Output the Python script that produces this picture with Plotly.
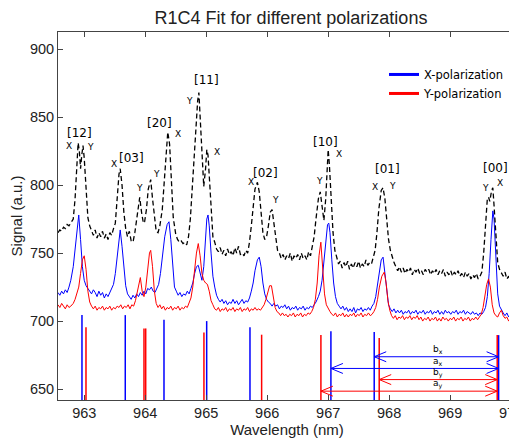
import plotly.graph_objects as go

# ---------------- data ----------------
black_pts = [
    (962.57,765),(962.60,767),(962.63,766),(962.66,769),(962.69,768),(962.72,771),(962.75,770),(962.78,772),
    (962.82,775),(962.85,790),(962.88,818),(962.90,831),(962.92,825),(962.94,812),(962.96,822),(962.98,829),
    (963.00,820),(963.03,795),(963.06,776),(963.09,770),(963.12,766),(963.15,763),(963.18,767),(963.21,761),
    (963.24,765),(963.27,762),(963.30,766),(963.33,761),(963.36,764),(963.39,760),(963.42,765),(963.45,763),
    (963.48,768),(963.51,772),(963.54,790),(963.57,808),(963.59,812),(963.62,800),(963.65,780),(963.68,768),
    (963.71,762),(963.74,766),(963.77,759),(963.80,758),(963.83,765),(963.86,775),(963.89,788),(963.91,791),
    (963.94,780),(963.97,772),(963.99,773),(964.02,782),(964.05,797),(964.09,804),(964.12,790),(964.15,776),
    (964.18,766),(964.21,765),(964.24,770),(964.28,782),(964.31,800),(964.34,825),(964.37,839),(964.40,830),
    (964.43,800),(964.46,776),(964.50,764),(964.53,760),(964.56,758),(964.59,759),(964.62,757),(964.65,758),
    (964.68,756),(964.71,762),(964.74,775),(964.77,798),(964.80,822),(964.83,845),(964.86,862),(964.88,868),
    (964.90,850),(964.93,815),(964.96,799),(964.99,812),(965.01,826),(965.03,822),(965.05,805),(965.08,778),
    (965.11,762),(965.14,758),(965.17,753),(965.20,751),(965.23,754),(965.26,749),(965.29,752),(965.32,748),
    (965.35,753),(965.38,749),(965.41,751),(965.44,748),(965.47,754),(965.50,750),(965.53,755),(965.56,749),
    (965.59,750),(965.62,748),(965.65,752),(965.68,750),(965.71,758),(965.74,770),(965.77,785),(965.80,797),
    (965.84,802),(965.87,795),(965.90,780),(965.93,765),(965.96,760),(965.99,762),(966.02,770),(966.05,780),
    (966.08,782),(966.11,772),(966.14,760),(966.17,752),(966.20,750),(966.23,746),(966.26,749),(966.29,745),
    (966.32,748),(966.35,746),(966.38,750),(966.41,744),(966.44,748),(966.47,746),(966.50,749),(966.53,745),
    (966.56,750),(966.59,746),(966.62,748),(966.65,745),(966.68,751),(966.71,748),(966.74,755),(966.77,762),
    (966.80,775),(966.84,790),(966.87,795),(966.90,785),(966.93,774),(966.96,790),(966.98,815),(967.00,826),
    (967.02,815),(967.05,790),(967.08,765),(967.11,752),(967.14,746),(967.17,742),(967.20,744),(967.23,739),
    (967.26,743),(967.29,740),(967.32,744),(967.35,738),(967.38,742),(967.41,739),(967.44,743),(967.47,740),
    (967.50,744),(967.53,739),(967.56,742),(967.59,740),(967.62,745),(967.65,741),(967.68,743),(967.71,742),
    (967.74,747),(967.77,752),(967.80,765),(967.83,782),(967.87,796),(967.90,798),(967.93,790),(967.96,775),
    (967.99,760),(968.02,752),(968.05,747),(968.08,743),(968.11,740),(968.14,737),(968.17,740),(968.20,736),
    (968.23,739),(968.26,735),(968.29,738),(968.32,736),(968.35,739),(968.38,734),(968.41,738),(968.44,736),
    (968.47,739),(968.50,735),(968.53,737),(968.56,734),(968.59,738),(968.62,736),(968.65,738),(968.68,734),
    (968.71,737),(968.74,735),(968.77,738),(968.80,734),(968.83,737),(968.86,735),(968.89,738),(968.92,733),
    (968.95,736),(968.98,734),(969.01,737),(969.04,733),(969.07,736),(969.10,734),(969.13,737),(969.16,733),
    (969.19,735),(969.22,732),(969.25,736),(969.28,733),(969.31,735),(969.34,731),(969.37,734),(969.40,732),
    (969.43,735),(969.46,731),(969.49,733),(969.52,736),(969.55,750),(969.58,775),(969.61,790),(969.63,791),
    (969.65,788),(969.68,796),(969.70,798),(969.72,785),(969.75,760),(969.78,743),(969.81,738),(969.84,735),
    (969.87,733),(969.90,736),(969.93,731),(969.96,733),(969.99,730),(970.02,732),(970.05,730),(970.08,731),
]

blue_pts = [
    (962.57,721),(962.60,719),(962.63,722),(962.66,720),(962.69,723),(962.72,721),(962.75,725),(962.78,730),
    (962.82,740),(962.85,752),(962.88,768),(962.91,778),(962.94,760),(962.97,740),(963.00,730),(963.03,726),
    (963.06,724),(963.09,722),(963.12,720),(963.15,723),(963.18,721),(963.21,718),(963.24,722),(963.27,719),
    (963.30,721),(963.33,717),(963.36,720),(963.39,718),(963.42,721),(963.45,723),(963.48,727),(963.51,735),
    (963.54,748),(963.57,762),(963.59,767),(963.62,755),(963.65,738),(963.68,726),(963.71,720),(963.74,718),
    (963.77,716),(963.80,719),(963.83,717),(963.86,720),(963.89,718),(963.92,721),(963.95,719),(963.98,722),
    (964.01,720),(964.04,724),(964.07,723),(964.10,725),(964.13,722),(964.16,721),(964.19,724),(964.22,727),
    (964.25,735),(964.28,748),(964.32,762),(964.36,771),(964.39,773),(964.42,760),(964.45,740),(964.48,725),
    (964.51,722),(964.54,719),(964.57,721),(964.60,718),(964.63,720),(964.66,719),(964.69,722),(964.72,720),
    (964.75,724),(964.78,728),(964.81,735),(964.84,740),(964.87,741),(964.90,735),(964.93,730),(964.96,740),
    (964.99,765),(965.01,775),(965.03,778),(965.05,770),(965.08,750),(965.11,733),(965.14,725),(965.17,719),
    (965.20,716),(965.23,714),(965.26,716),(965.29,713),(965.32,715),(965.35,712),(965.38,714),(965.41,713),
    (965.44,716),(965.47,713),(965.50,715),(965.53,712),(965.56,714),(965.59,716),(965.62,713),(965.65,715),
    (965.68,714),(965.71,717),(965.74,722),(965.77,728),(965.80,737),(965.84,745),(965.87,747),(965.90,740),
    (965.93,728),(965.96,720),(965.99,716),(966.02,714),(966.05,713),(966.08,711),(966.11,713),(966.14,711),
    (966.17,712),(966.20,709),(966.23,711),(966.26,710),(966.29,712),(966.32,709),(966.35,711),(966.38,708),
    (966.41,710),(966.44,709),(966.47,711),(966.50,708),(966.53,710),(966.56,709),(966.59,711),(966.62,708),
    (966.65,710),(966.68,709),(966.71,711),(966.74,710),(966.77,712),(966.80,714),(966.84,718),(966.87,722),
    (966.90,730),(966.93,745),(966.96,762),(966.99,771),(967.01,772),(967.03,765),(967.06,745),(967.09,728),
    (967.12,718),(967.15,713),(967.18,711),(967.21,709),(967.24,711),(967.27,708),(967.30,710),(967.33,707),
    (967.36,709),(967.39,707),(967.42,710),(967.45,706),(967.48,709),(967.51,708),(967.54,710),(967.57,707),
    (967.60,709),(967.63,708),(967.66,710),(967.69,708),(967.72,711),(967.75,713),(967.78,718),(967.81,726),
    (967.84,737),(967.87,745),(967.90,747),(967.93,735),(967.96,720),(967.99,712),(968.02,709),(968.05,707),
    (968.08,709),(968.11,706),(968.14,708),(968.17,706),(968.20,708),(968.23,705),(968.26,707),(968.29,706),
    (968.32,708),(968.35,705),(968.38,707),(968.41,706),(968.44,708),(968.47,705),(968.50,707),(968.53,706),
    (968.56,708),(968.59,705),(968.62,707),(968.65,706),(968.68,708),(968.71,705),(968.74,707),(968.77,706),
    (968.80,708),(968.83,705),(968.86,707),(968.89,705),(968.92,708),(968.95,706),(968.98,707),(969.01,705),
    (969.04,707),(969.07,706),(969.10,708),(969.13,705),(969.16,707),(969.19,706),(969.22,708),(969.25,705),
    (969.28,707),(969.31,706),(969.34,705),(969.37,707),(969.40,705),(969.43,706),(969.46,704),(969.49,706),
    (969.52,705),(969.55,707),(969.58,710),(969.61,718),(969.64,735),(969.67,760),(969.70,781),(969.72,775),
    (969.75,745),(969.78,720),(969.81,711),(969.84,708),(969.87,706),(969.90,704),(969.93,706),(969.96,703),
    (969.99,705),(970.02,703),(970.05,704),(970.08,703),
]

red_pts = [
    (962.57,712),(962.60,710),(962.63,713),(962.66,711),(962.69,709),(962.72,712),(962.75,710),(962.78,711),
    (962.82,713),(962.85,716),(962.88,720),(962.91,725),(962.94,735),(962.97,745),(963.00,748),(963.03,738),
    (963.06,722),(963.09,714),(963.12,711),(963.15,709),(963.18,711),(963.21,708),(963.24,710),(963.27,709),
    (963.30,711),(963.33,708),(963.36,710),(963.39,709),(963.42,711),(963.45,708),(963.48,710),(963.51,709),
    (963.54,711),(963.57,710),(963.60,712),(963.63,709),(963.66,711),(963.69,710),(963.72,712),(963.75,709),
    (963.78,712),(963.81,711),(963.84,715),(963.87,722),(963.90,730),(963.92,732),(963.95,722),(963.98,718),
    (964.01,725),(964.04,738),(964.07,750),(964.09,752),(964.12,740),(964.15,722),(964.18,713),(964.21,710),
    (964.24,712),(964.27,709),(964.30,711),(964.33,708),(964.36,710),(964.39,709),(964.42,711),(964.45,708),
    (964.48,710),(964.51,709),(964.54,711),(964.57,708),(964.60,710),(964.63,709),(964.66,711),(964.69,710),
    (964.72,713),(964.75,717),(964.78,725),(964.81,738),(964.84,750),(964.87,757),(964.90,748),(964.93,735),
    (964.96,730),(964.99,728),(965.02,727),(965.05,722),(965.08,715),(965.11,712),(965.14,709),(965.17,708),
    (965.20,710),(965.23,707),(965.26,709),(965.29,708),(965.32,710),(965.35,707),(965.38,709),(965.41,708),
    (965.44,710),(965.47,707),(965.50,709),(965.53,708),(965.56,710),(965.59,707),(965.62,709),(965.65,708),
    (965.68,710),(965.71,707),(965.74,709),(965.77,708),(965.80,710),(965.83,708),(965.86,709),(965.89,708),
    (965.92,710),(965.95,712),(965.98,716),(966.01,722),(966.04,726),(966.07,726),(966.10,718),(966.13,710),
    (966.16,707),(966.19,706),(966.22,704),(966.25,706),(966.28,704),(966.31,705),(966.34,703),(966.37,705),
    (966.40,704),(966.43,706),(966.46,703),(966.49,705),(966.52,704),(966.55,706),(966.58,703),(966.61,705),
    (966.64,704),(966.67,706),(966.70,705),(966.73,707),(966.76,710),(966.79,716),(966.82,728),(966.85,748),
    (966.88,758),(966.91,740),(966.94,720),(966.97,712),(967.00,709),(967.03,707),(967.06,705),(967.09,704),
    (967.12,706),(967.15,703),(967.18,705),(967.21,704),(967.24,706),(967.27,703),(967.30,705),(967.33,703),
    (967.36,705),(967.39,704),(967.42,706),(967.45,703),(967.48,705),(967.51,704),(967.54,706),(967.57,703),
    (967.60,705),(967.63,704),(967.66,706),(967.69,704),(967.72,705),(967.75,707),(967.78,710),(967.81,716),
    (967.84,725),(967.88,733),(967.92,736),(967.95,728),(967.98,715),(968.01,708),(968.04,704),(968.07,702),
    (968.10,704),(968.13,701),(968.16,703),(968.19,702),(968.22,704),(968.25,701),(968.28,703),(968.31,702),
    (968.34,704),(968.37,701),(968.40,703),(968.43,702),(968.46,704),(968.49,701),(968.52,703),(968.55,700),
    (968.58,702),(968.61,701),(968.64,703),(968.67,700),(968.70,702),(968.73,701),(968.76,703),(968.79,700),
    (968.82,702),(968.85,700),(968.88,703),(968.91,701),(968.94,702),(968.97,700),(969.00,702),(969.03,701),
    (969.06,703),(969.09,700),(969.12,702),(969.15,701),(969.18,703),(969.21,700),(969.24,702),(969.27,701),
    (969.30,703),(969.33,700),(969.36,702),(969.39,701),(969.42,703),(969.45,701),(969.48,703),(969.51,705),
    (969.54,710),(969.57,718),(969.60,727),(969.63,731),(969.66,725),(969.69,712),(969.72,706),(969.75,704),
    (969.78,703),(969.81,706),(969.84,708),(969.87,704),(969.90,702),(969.93,703),(969.96,700),(969.99,702),
    (970.02,700),(970.05,701),(970.08,700),
]

# fitted line positions (nm) and their heights (a.u.)
blue_fit_nm = [962.963, 963.673, 964.308, 965.008, 965.718, 967.045, 967.755, 969.795]
blue_fit_top = [704.4, 704.4, 701.0, 700.0, 695.4, 692.6, 692.0, 689.7]
red_fit_nm = [963.029, 963.980, 964.008, 964.963, 965.909, 966.881, 967.837, 969.772]
red_fit_top = [695.4, 694.6, 694.6, 691.7, 690.0, 689.7, 687.5, 689.7]

# peak labels
mode_labels = ["[12]", "[00]", "[03]", "[20]", "[11]", "[02]", "[10]", "[01]", "[00]"]
mode_nm = [962.93, 962.26, 963.77, 964.23, 965.00, 965.97, 966.95, 967.97, 969.75]
mode_signal = [838.0, 819.6, 819.6, 845.4, 877.0, 809.0, 832.0, 811.5, 812.3]

pol_labels = ["X", "Y", "X", "Y", "Y", "X", "Y", "X", "X", "Y", "Y", "X", "X", "Y", "Y", "X"]
pol_nm = [962.75, 963.11, 963.49, 963.90, 964.19, 964.54, 964.73, 965.18, 965.73, 966.13,
          966.85, 967.17, 967.76, 968.05, 969.58, 969.82]
pol_signal = [829.0, 828.0, 815.4, 797.6, 808.0, 837.5, 861.8, 824.5, 802.4, 789.0,
              803.0, 822.8, 798.8, 799.5, 798.0, 801.2]

# spacing arrows
arrow_labels = ["b<sub>x</sub>", "a<sub>x</sub>", "b<sub>y</sub>", "a<sub>y</sub>"]
arrow_start = [967.755, 967.045, 967.837, 966.881]
arrow_end = [969.795, 969.795, 969.772, 969.772]
arrow_level = [673.8, 665.2, 657.0, 648.5]
arrow_label_nm = [968.80, 968.80, 968.80, 968.80]
arrow_colors = ["#0000ff", "#0000ff", "#ff0000", "#ff0000"]

x_ticks = [963, 964, 965, 966, 967, 968, 969, 970]
y_ticks = [650, 700, 750, 800, 850, 900]
x_range = [962.57, 970.08]
y_range = [642.0, 912.5]

BLUE = "#0000ff"
RED = "#ff0000"

# ---------------- layout geometry ----------------
# the page body adds an 8px offset, so the figure is 8px smaller and margins are shifted
FIG_W, FIG_H = 509, 430
M_L, M_R, M_T, M_B = 50, 1, 24, 38
PLOT_W = FIG_W - M_L - M_R
PLOT_H = FIG_H - M_T - M_B
px_per_nm = PLOT_W / (x_range[1] - x_range[0])
px_per_unit = PLOT_H / (y_range[1] - y_range[0])
HEAD_LEN_PX, HEAD_HALF_PX = 12, 5
hx = HEAD_LEN_PX / px_per_nm
hy = HEAD_HALF_PX / px_per_unit

# ---------------- figure ----------------
fig = go.Figure()

bx, by = zip(*blue_pts)
rx, ry = zip(*red_pts)
kx, ky = zip(*black_pts)

fig.add_trace(go.Scatter(x=bx, y=by, mode="lines", line=dict(color=BLUE, width=1), showlegend=False))
fig.add_trace(go.Scatter(x=rx, y=ry, mode="lines", line=dict(color=RED, width=1), showlegend=False))
fig.add_trace(go.Scatter(x=kx, y=ky, mode="lines", line=dict(color="black", width=1.3, dash="5px,3px"),
                         showlegend=False))


def stems(pos, tops, base):
    xs, ys = [], []
    for p, t in zip(pos, tops):
        xs += [p, p, None]
        ys += [base, t, None]
    return xs, ys


sx, sy = stems(blue_fit_nm, blue_fit_top, y_range[0] - 10)
fig.add_trace(go.Scatter(x=sx, y=sy, mode="lines", line=dict(color=BLUE, width=1.5), showlegend=False))
sx, sy = stems(red_fit_nm, red_fit_top, y_range[0] - 10)
fig.add_trace(go.Scatter(x=sx, y=sy, mode="lines", line=dict(color=RED, width=1.5), showlegend=False))

# double-headed spacing arrows (open chevron heads)
for s, e, lv, c in zip(arrow_start, arrow_end, arrow_level, arrow_colors):
    ax_ = [s + hx, s, s + hx, None, s, e, None, e - hx, e, e - hx]
    ay_ = [lv + hy, lv, lv - hy, None, lv, lv, None, lv + hy, lv, lv - hy]
    fig.add_trace(go.Scatter(x=ax_, y=ay_, mode="lines", line=dict(color=c, width=1), showlegend=False,
                             hoverinfo="skip"))

# legend entries
fig.add_trace(go.Scatter(x=[None], y=[None], mode="lines", line=dict(color=BLUE, width=3), name="X-polarization"))
fig.add_trace(go.Scatter(x=[None], y=[None], mode="lines", line=dict(color=RED, width=3), name="Y-polarization"))

annotations = []
for t, x, y in zip(mode_labels, mode_nm, mode_signal):
    annotations.append(dict(x=x, y=y, xref="x", yref="y", text=t, showarrow=False,
                            font=dict(family="DejaVu Sans", size=12, color="black")))
for t, x, y in zip(pol_labels, pol_nm, pol_signal):
    annotations.append(dict(x=x, y=y, xref="x", yref="y", text=t, showarrow=False,
                            font=dict(family="DejaVu Sans", size=9, color="black")))
for t, lv, lx in zip(arrow_labels, arrow_level, arrow_label_nm):
    annotations.append(dict(x=lx, y=lv, xref="x", yref="y", text=t,
                            showarrow=False, yshift=7,
                            font=dict(family="DejaVu Sans", size=9, color="black")))

fig.update_layout(
    width=FIG_W, height=FIG_H,
    margin=dict(l=M_L, r=M_R, t=M_T, b=M_B, autoexpand=False),
    paper_bgcolor="white", plot_bgcolor="white",
    font=dict(family="Liberation Sans", size=14.5, color="#222"),
    title=dict(text="R1C4 Fit for different polarizations", x=0.556, xref="container", xanchor="center",
               y=0.977, yref="container", yanchor="middle",
               font=dict(family="Liberation Sans", size=18, color="#222")),
    legend=dict(x=0.7118, y=0.924, xanchor="left", yanchor="top", bgcolor="rgba(0,0,0,0)",
                font=dict(family="DejaVu Sans", size=11.5, color="black")),
    annotations=annotations,
)
fig.update_xaxes(range=x_range, tickvals=x_ticks, ticks="inside", ticklen=5, tickcolor="#444",
                 showline=True, linecolor="#444", linewidth=1, mirror="ticks", showgrid=False, zeroline=False,
                 automargin=False, ticklabeloverflow="allow",
                 title=dict(text="Wavelength (nm)", standoff=0, font=dict(size=15)))
fig.update_yaxes(range=y_range, tickvals=y_ticks, ticks="inside", ticklen=5, tickcolor="#444",
                 showline=True, linecolor="#444", linewidth=1, mirror="ticks", showgrid=False, zeroline=False,
                 automargin=False, title=dict(text="Signal (a.u.)", standoff=3, font=dict(size=15)))

fig.write_html("out.html")
